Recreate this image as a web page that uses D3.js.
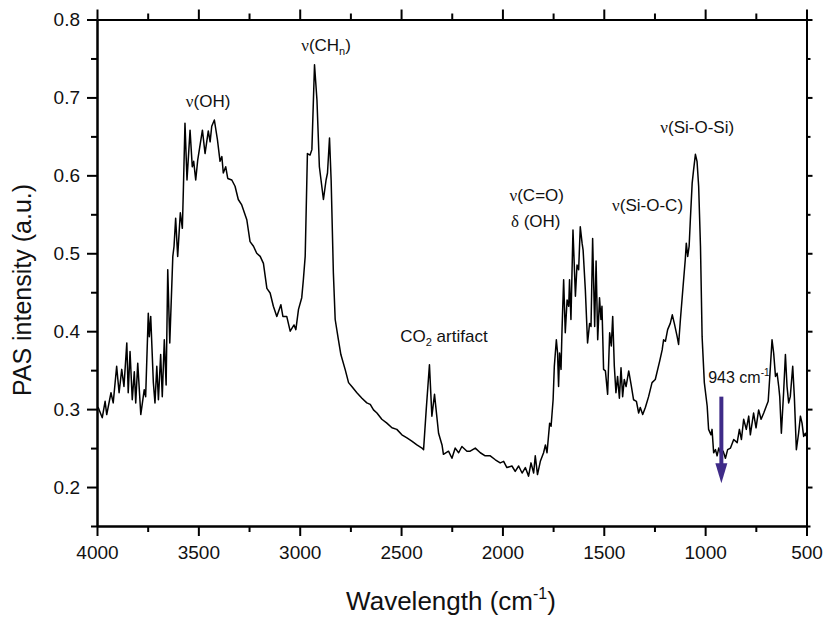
<!DOCTYPE html>
<html>
<head>
<meta charset="utf-8">
<title>PAS spectrum</title>
<script src="https://cdn.jsdelivr.net/npm/d3@7"></script>
<style>
  body { margin: 0; background: #fff; }
  svg text { font-family: "Liberation Sans", Arial, sans-serif; fill: #111; }
  .gr { font-family: "Liberation Serif", "Times New Roman", serif; }
</style>
</head>
<body>
<svg id="chart" width="826" height="619"></svg>
<script>
// wavenumber (cm-1)
const wn = [4000,3994,3974,3960,3952,3931,3920,3903,3891,3878,3867,3853,3846,3837,3826,3816,3809,3799,3784,3767,
  3760,3747,3742,3735,3722,3714,3705,3697,3686,3678,3668,3659,3651,3641,3626,3620,3612,3602,3589,3579,
  3574,3566,3556,3541,3530,3523,3513,3503,3480,3467,3451,3442,3434,3421,3406,3393,3384,3377,3365,3355,
  3335,3319,3303,3286,3261,3245,3228,3212,3195,3179,3162,3146,3130,3113,3093,3083,3064,3047,3028,3019,
  3006,2990,2982,2973,2962,2949,2940,2927,2915,2903,2883,2870,2863,2853,2845,2834,2825,2809,2797,2776,
  2759,2743,2718,2693,2669,2652,2636,2619,2595,2570,2545,2521,2496,2471,2447,2422,2397,2389,2376,2360,
  2348,2335,2315,2298,2291,2266,2249,2233,2216,2200,2175,2159,2134,2109,2085,2060,2035,2011,1994,1978,
  1953,1937,1920,1903,1887,1871,1859,1846,1838,1827,1813,1797,1788,1780,1767,1760,1750,1744,1734,1728,
  1723,1718,1711,1706,1698,1690,1681,1673,1669,1662,1652,1640,1632,1624,1616,1607,1602,1591,1580,1570,
  1563,1555,1545,1538,1530,1521,1514,1509,1501,1492,1481,1471,1463,1456,1448,1440,1432,1423,1415,1407,
  1399,1390,1377,1365,1353,1339,1328,1320,1308,1295,1279,1262,1246,1224,1212,1205,1196,1185,1172,1162,
  1152,1138,1131,1122,1109,1098,1093,1086,1079,1073,1064,1057,1048,1040,1032,1023,1015,1004,990,983,
  971,966,958,949,941,933,925,911,900,889,875,859,842,831,821,810,797,785,777,761,
  749,736,724,711,698,689,682,670,662,653,645,637,632,624,613,604,596,588,580,568,
  560,550,539,530,522,514,506,500];
// PAS intensity (a.u.)
const pas = [0.302,0.302,0.289,0.310,0.293,0.321,0.308,0.355,0.321,0.351,0.329,0.385,0.321,0.374,0.312,0.348,0.308,0.359,0.293,0.325,
  0.316,0.423,0.393,0.419,0.334,0.308,0.355,0.312,0.370,0.316,0.389,0.331,0.479,0.385,0.496,0.509,0.545,0.496,0.552,0.532,
  0.581,0.667,0.594,0.658,0.611,0.618,0.594,0.620,0.658,0.628,0.657,0.643,0.663,0.671,0.646,0.618,0.624,0.603,0.611,0.596,
  0.594,0.586,0.569,0.562,0.543,0.515,0.509,0.500,0.496,0.487,0.455,0.449,0.432,0.419,0.434,0.419,0.419,0.400,0.408,0.402,
  0.428,0.443,0.466,0.496,0.628,0.626,0.633,0.742,0.697,0.611,0.569,0.594,0.603,0.648,0.594,0.475,0.415,0.389,0.370,0.351,
  0.334,0.329,0.321,0.314,0.308,0.306,0.299,0.295,0.287,0.282,0.276,0.274,0.267,0.263,0.259,0.254,0.250,0.248,0.299,0.357,
  0.291,0.319,0.269,0.254,0.242,0.246,0.237,0.250,0.244,0.252,0.246,0.246,0.250,0.244,0.240,0.240,0.235,0.231,0.233,0.225,
  0.227,0.220,0.227,0.218,0.225,0.214,0.231,0.218,0.240,0.216,0.233,0.244,0.254,0.244,0.282,0.278,0.312,0.355,0.389,0.372,
  0.329,0.372,0.351,0.402,0.466,0.398,0.440,0.432,0.466,0.415,0.530,0.445,0.485,0.479,0.534,0.513,0.504,0.453,0.385,0.410,
  0.406,0.519,0.406,0.490,0.389,0.443,0.415,0.432,0.351,0.349,0.319,0.398,0.381,0.419,0.355,0.321,0.342,0.314,0.353,0.316,
  0.338,0.329,0.349,0.331,0.312,0.310,0.295,0.302,0.293,0.302,0.316,0.334,0.338,0.362,0.376,0.389,0.387,0.402,0.410,0.421,
  0.410,0.393,0.383,0.415,0.457,0.492,0.513,0.496,0.509,0.543,0.590,0.607,0.627,0.618,0.586,0.509,0.393,0.334,0.304,0.274,
  0.267,0.274,0.244,0.248,0.240,0.250,0.244,0.246,0.237,0.248,0.250,0.261,0.257,0.274,0.261,0.287,0.274,0.291,0.267,0.295,
  0.276,0.299,0.287,0.295,0.304,0.310,0.338,0.389,0.372,0.342,0.346,0.329,0.316,0.269,0.321,0.370,0.329,0.308,0.316,0.355,
  0.316,0.248,0.269,0.291,0.282,0.265,0.269,0.265];

const xMajor = [4000, 3500, 3000, 2500, 2000, 1500, 1000, 500];
const xMinor = [3750, 3250, 2750, 2250, 1750, 1250, 750];
const yMajor = [0.2, 0.3, 0.4, 0.5, 0.6, 0.7, 0.8];
const yMinor = [0.15, 0.25, 0.35, 0.45, 0.55, 0.65, 0.75];

// band labels: [greek prefix, rest, subscript, tail, wavenumber, intensity]
const bands = [
  ["ν", "(OH)", "", "", 3452, 0.688, "middle"],
  ["ν", "(CH", "n", ")", 2870, 0.759, "middle"],
  ["", "CO", "2", " artifact", 2504, 0.386, "start"],
  ["ν", "(C=O)", "", "", 1965, 0.567, "start"],
  ["δ", " (OH)", "", "", 1958, 0.534, "start"],
  ["ν", "(Si-O-C)", "", "", 1459, 0.554, "start"],
  ["ν", "(Si-O-Si)", "", "", 1221, 0.654, "start"]
];
const arrowWn = 920, arrowTop = 0.316, arrowTip = 0.205;

const svg = d3.select("#chart");
const x = d3.scaleLinear().domain([4000, 500]).range([97, 806.5]);
const y = d3.scaleLinear().domain([0.15, 0.8]).range([526, 19.5]);

function styleAxis(g) {
  g.selectAll("path, line").attr("stroke", "#000").attr("stroke-width", 2);
  g.selectAll("text").style("font-size", "19px").attr("fill", "#111");
}

// bottom
svg.append("g").attr("transform", "translate(0,526)")
  .call(d3.axisBottom(x).tickValues(xMajor).tickSize(10).tickSizeOuter(0).tickPadding(10).tickFormat(d3.format("d")))
  .call(styleAxis);
svg.append("g").attr("transform", "translate(0,526)")
  .call(d3.axisBottom(x).tickValues(xMinor).tickSize(6).tickSizeOuter(0).tickFormat(""))
  .call(styleAxis);
// top
svg.append("g").attr("transform", "translate(0,19.5)")
  .call(d3.axisTop(x).tickValues(xMajor).tickSize(10).tickSizeOuter(0).tickFormat(""))
  .call(styleAxis);
svg.append("g").attr("transform", "translate(0,19.5)")
  .call(d3.axisTop(x).tickValues(xMinor).tickSize(6).tickSizeOuter(0).tickFormat(""))
  .call(styleAxis);
// left
svg.append("g").attr("transform", "translate(97,0)")
  .call(d3.axisLeft(y).tickValues(yMajor).tickSize(10).tickSizeOuter(0).tickPadding(7).tickFormat(d3.format(".1f")))
  .call(styleAxis);
svg.append("g").attr("transform", "translate(97,0)")
  .call(d3.axisLeft(y).tickValues(yMinor).tickSize(6).tickSizeOuter(0).tickFormat(""))
  .call(styleAxis);
// right
svg.append("g").attr("transform", "translate(806.5,0)")
  .call(d3.axisRight(y).tickValues(yMajor).tickSize(6).tickSizeOuter(0).tickFormat(""))
  .call(styleAxis);
svg.append("g").attr("transform", "translate(806.5,0)")
  .call(d3.axisRight(y).tickValues(yMinor).tickSize(4).tickSizeOuter(0).tickFormat(""))
  .call(styleAxis);

// spectrum
const line = d3.line().x((d, i) => x(wn[i])).y(d => y(d));
svg.append("path").datum(pas)
  .attr("d", line)
  .attr("fill", "none")
  .attr("stroke", "#000")
  .attr("stroke-width", 1.5)
  .attr("stroke-linejoin", "round");

// band labels
bands.forEach(b => {
  const t = svg.append("text")
    .attr("x", x(b[4])).attr("y", y(b[5]))
    .attr("text-anchor", b[6])
    .style("font-size", "17px");
  if (b[0]) t.append("tspan").attr("class", "gr").text(b[0]);
  t.append("tspan").text(b[1]);
  if (b[2]) {
    t.append("tspan").attr("dy", 4).style("font-size", "11px").text(b[2]);
    t.append("tspan").attr("dy", -4).text(b[3]);
  }
});

// 943 cm-1 arrow
const a943 = svg.append("text").attr("x", x(985)).attr("y", y(0.334)).style("font-size", "16px");
a943.append("tspan").text("943 cm");
a943.append("tspan").attr("dy", -7).style("font-size", "10px").text("-1");

const ax = x(arrowWn);
svg.append("line")
  .attr("x1", ax).attr("x2", ax)
  .attr("y1", y(arrowTop)).attr("y2", y(arrowTip) - 18)
  .attr("stroke", "#3f2b88").attr("stroke-width", 4);
svg.append("path")
  .attr("d", `M${ax - 6},${y(arrowTip) - 20}L${ax + 6},${y(arrowTip) - 20}L${ax},${y(arrowTip)}Z`)
  .attr("fill", "#3f2b88");

// axis titles
const xt = svg.append("text").attr("x", 451).attr("y", 610)
  .attr("text-anchor", "middle").style("font-size", "26px");
xt.append("tspan").text("Wavelength (cm");
xt.append("tspan").attr("dy", -11).style("font-size", "16px").text("-1");
xt.append("tspan").attr("dy", 11).text(")");

svg.append("text")
  .attr("transform", "translate(31,290) rotate(-90)")
  .attr("text-anchor", "middle")
  .style("font-size", "25px")
  .text("PAS intensity (a.u.)");
</script>
</body>
</html>
